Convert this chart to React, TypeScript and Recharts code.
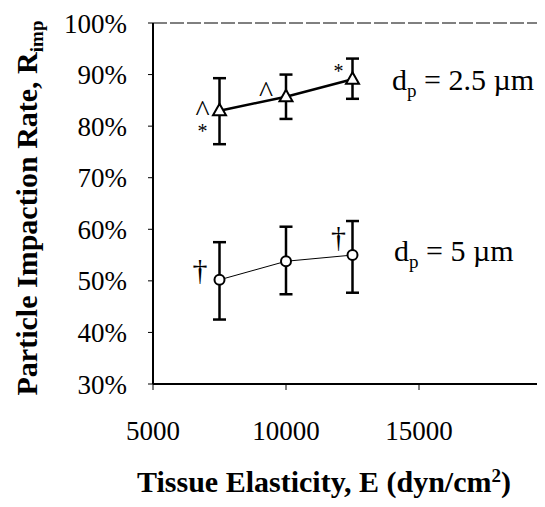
import React from "react";
import { ComposedChart, Line, XAxis, YAxis, ErrorBar, Scatter, ReferenceLine, Label } from "recharts";

// Tissue elasticity E (dyn/cm^2)
const elasticity = [7500, 10000, 12500];
// d_p = 2.5 µm
const rate25 = [83.0, 85.7, 89.1];
const err25Low = [6.5, 4.3, 3.8];
const err25High = [6.3, 4.3, 4.0];
// d_p = 5 µm
const rate5 = [50.2, 53.8, 55.0];
const err5Low = [7.7, 6.4, 7.3];
const err5High = [7.3, 6.7, 6.6];

const xTicks = [5000, 10000, 15000];
const yTicks = [30, 40, 50, 60, 70, 80, 90, 100];

// annotation symbols and series labels (data coordinates)
const annText = ["^", "*", "^", "*", "†", "†", "dp25", "dp5"];
const annX = [6861, 6861, 9248, 11974, 6767, 11974, 13985, 14060];
const annY = [81.0, 77.7, 84.6, 89.4, 50.1, 56.5, 87.0, 53.85];

const FONT = "Liberation Serif";

const data25 = elasticity.map((x, i) => ({ x, y: rate25[i], err: [err25Low[i], err25High[i]] }));
const data5 = elasticity.map((x, i) => ({ x, y: rate5[i], err: [err5Low[i], err5High[i]] }));
const annotations = annText.map((t, i) => ({ x: annX[i], y: annY[i], t }));

const Triangle = (props: any) => {
  const { cx, cy } = props;
  if (cx == null || cy == null) return null;
  return (
    <path
      key={`t-${cx}`}
      d={`M${cx},${cy - 7} L${cx + 6.5},${cy + 4.5} L${cx - 6.5},${cy + 4.5} Z`}
      fill="#fff"
      stroke="#000"
      strokeWidth={2}
    />
  );
};

const Circ = (props: any) => {
  const { cx, cy } = props;
  if (cx == null || cy == null) return null;
  return <circle key={`c-${cx}`} cx={cx} cy={cy} r={5} fill="#fff" stroke="#000" strokeWidth={2} />;
};

const Ann = (props: any) => {
  const { cx, cy, payload } = props;
  if (cx == null || cy == null) return null;
  const t = payload.t;
  if (t === "dp25" || t === "dp5") {
    const rest = t === "dp25" ? " = 2.5 µm" : " = 5 µm";
    return (
      <text x={cx} y={cy} style={{ fontFamily: FONT }} fontFamily={FONT} fontSize={30} fill="#000">
        <tspan>d</tspan>
        <tspan dy={7} fontSize={19}>p</tspan>
        <tspan dy={-7}>{rest}</tspan>
      </text>
    );
  }
  const size = t === "^" ? 30 : t === "*" ? 20 : 30;
  return (
    <text x={cx} y={cy} style={{ fontFamily: FONT }} fontFamily={FONT} fontSize={size} textAnchor="middle" fill="#000">
      {t}
    </text>
  );
};

const XTitle = () => {
  return (
    <text x={316} y={484} style={{ fontFamily: FONT }} fontFamily={FONT} fontWeight="bold" fontSize={30} textAnchor="middle" fill="#000">
      <tspan>Tissue Elasticity, E (dyn/cm</tspan>
      <tspan dy={-10} fontSize={19}>2</tspan>
      <tspan dy={10}>)</tspan>
    </text>
  );
};

const YTitle = () => {
  return (
    <text
      x={29}
      y={200}
      transform="rotate(-90, 29, 200)"
      style={{ fontFamily: FONT }}
      fontFamily={FONT}
      fontWeight="bold"
      fontSize={30}
      textAnchor="middle"
      fill="#000"
    >
      <tspan>Particle Impaction Rate, R</tspan>
      <tspan dy={6} fontSize={19}>imp</tspan>
    </text>
  );
};

const tickStyle = { fontFamily: FONT, fontSize: 27, fill: "#000", style: { fontFamily: FONT } };

export default function App() {
  return (
    <div style={{ width: 537, height: 499, overflow: "hidden", fontFamily: FONT }}>
      <ComposedChart width={560} height={499} margin={{ top: 15, right: 16, bottom: 0, left: 0 }}>
        <XAxis
          type="number"
          dataKey="x"
          domain={[5000, 20000]}
          ticks={xTicks}
          allowDataOverflow
          height={123}
          tickSize={6}
          tickMargin={31}
          axisLine={{ stroke: "#000", strokeWidth: 2 }}
          tickLine={{ stroke: "#000", strokeWidth: 1 }}
          tick={tickStyle}
        >
          <Label content={<XTitle />} />
        </XAxis>
        <YAxis
          type="number"
          dataKey="y"
          domain={[30, 100]}
          ticks={yTicks}
          allowDataOverflow
          width={145}
          tickSize={5}
          tickMargin={21}
          tickFormatter={(v: number) => `${v}%`}
          axisLine={{ stroke: "#000", strokeWidth: 2 }}
          tickLine={{ stroke: "#000", strokeWidth: 1 }}
          tick={tickStyle}
        >
          <Label content={<YTitle />} />
        </YAxis>
        <ReferenceLine y={100} stroke="#000" strokeWidth={1} strokeDasharray="14 3" />
        <Line
          data={data25}
          dataKey="y"
          stroke="#000"
          strokeWidth={2.5}
          dot={Triangle}
          activeDot={false}
          isAnimationActive={false}
        >
          <ErrorBar dataKey="err" direction="y" width={6.5} stroke="#000" strokeWidth={2.5} />
        </Line>
        <Line
          data={data5}
          dataKey="y"
          stroke="#000"
          strokeWidth={1}
          dot={Circ}
          activeDot={false}
          isAnimationActive={false}
        >
          <ErrorBar dataKey="err" direction="y" width={6.5} stroke="#000" strokeWidth={2.5} />
        </Line>
        <Scatter data={annotations} dataKey="y" shape={Ann} isAnimationActive={false} />
      </ComposedChart>
    </div>
  );
}
